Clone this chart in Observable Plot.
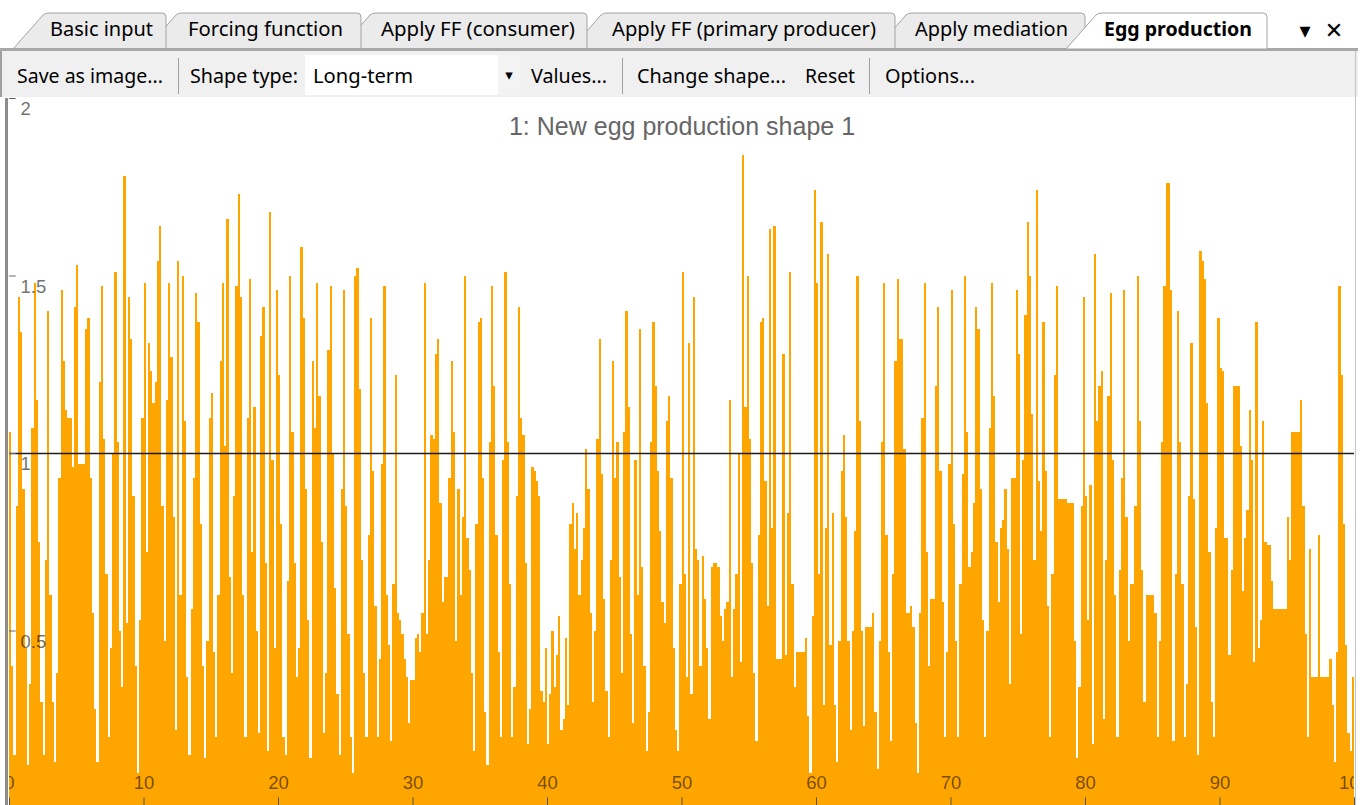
<!DOCTYPE html>
<html><head><meta charset="utf-8">
<script src="https://cdn.jsdelivr.net/npm/d3@7"></script>
<script src="https://cdn.jsdelivr.net/npm/@observablehq/plot@0.6"></script>
<style>
html,body{margin:0;padding:0;background:#fff;}
#app{position:relative;width:1365px;height:805px;overflow:hidden;background:#fff;}
#chrome{position:absolute;left:0;top:0;}
#chart{position:absolute;left:0;top:97px;}
#rborder{position:absolute;left:1355px;top:51px;width:1px;height:754px;background:#c4c4c4;}
</style></head><body>
<div id="app"><svg id="chrome" width="1365" height="97" xmlns="http://www.w3.org/2000/svg"></svg><div id="chart"></div><div id="rborder"></div></div>
<script>
// ---------- data ----------
const barsPerYear = 6;
const eggShape = [
1.06,0.40,0.15,0.85,1.44,1.34, 0.90,0.45,0.12,0.35,1.07,1.48, 1.15,0.75,0.30,0.15,0.70,1.40, 0.60,0.30,0.13,0.38,0.93,1.46,
1.26,1.12,1.10,1.10,0.96,1.41, 1.53,0.97,0.97,0.97,1.35,1.38, 0.93,0.55,0.28,0.13,1.20,1.47, 1.04,0.66,0.20,0.45,1.00,1.51,
1.03,0.50,0.34,1.78,0.52,1.44, 1.32,0.88,0.40,0.10,0.53,1.10, 1.48,0.72,1.31,1.23,1.14,1.20, 1.54,1.64,0.85,0.47,1.15,1.48,
1.27,0.82,0.22,1.54,0.60,1.50, 1.09,0.37,0.15,0.56,0.93,1.45, 1.37,0.80,0.40,0.14,0.47,1.10, 1.17,0.44,0.20,0.60,1.26,1.48,
1.02,1.66,0.65,0.38,0.88,1.47, 1.73,1.44,0.60,0.20,1.10,1.49, 0.72,1.13,0.50,0.21,1.33,1.41, 0.69,0.16,1.68,0.98,0.45,1.46,
1.22,0.80,0.20,0.15,0.64,1.50, 1.06,0.69,0.37,0.45,1.58,1.38, 0.90,0.53,0.14,1.26,1.07,1.48, 1.16,0.75,0.21,0.38,1.29,1.47,
1.00,0.62,0.32,0.15,0.90,1.46, 0.85,0.49,0.20,0.10,1.50,1.52, 1.18,0.70,0.38,0.20,0.77,1.38, 0.95,0.57,0.20,0.42,0.97,1.47,
0.60,0.46,0.19,0.63,1.22,0.55, 0.53,0.49,0.42,0.37,0.24,0.36, 0.36,0.48,0.49,0.44,0.55,1.48, 0.49,0.70,1.05,1.04,1.28,1.32,
0.86,0.58,0.65,0.65,0.93,1.26, 1.06,0.47,0.90,0.60,0.82,1.50, 0.76,0.67,0.38,0.16,0.80,1.37, 1.38,0.93,0.27,0.12,1.03,1.47,
1.19,0.77,0.44,0.20,0.98,1.51, 1.03,0.63,0.20,0.34,0.88,1.41, 1.10,1.05,0.69,0.18,0.28,0.96, 0.95,0.92,0.88,0.33,0.30,0.45,
0.18,0.32,0.50,0.34,0.43,0.54, 0.22,0.25,0.48,0.29,0.80,0.86, 0.73,0.83,0.60,0.70,0.79,1.01, 0.90,0.55,0.30,0.50,1.04,1.32,
0.94,0.59,0.33,0.20,0.70,1.26, 0.93,1.03,0.65,0.38,1.06,1.40, 1.13,0.49,0.24,0.98,0.60,1.35, 0.68,0.40,0.16,0.27,1.03,1.37,
1.19,0.95,0.78,0.58,0.52,1.09, 1.16,0.93,0.45,0.22,0.16,0.63, 1.51,0.66,0.37,1.31,0.32,1.44, 0.73,0.70,0.40,0.71,0.59,0.45,
0.25,0.68,0.69,0.69,0.68,0.54, 0.47,0.56,0.58,1.15,0.37,0.56, 0.66,1.00,0.41,1.84,1.13,1.50, 1.04,0.69,0.38,0.19,0.77,1.37,
1.38,0.92,0.57,1.63,0.79,1.64, 0.42,0.42,0.42,1.28,0.43,0.83, 1.51,0.63,0.34,0.44,0.44,0.44, 0.44,0.48,0.26,0.10,0.54,1.74,
1.48,0.66,1.65,0.29,0.79,1.56, 0.46,0.83,0.29,0.13,0.47,0.95, 1.05,0.82,0.47,0.22,0.50,0.78, 1.50,1.09,0.50,0.23,0.51,0.51,
0.51,0.55,0.27,0.11,0.47,1.03, 1.48,0.77,0.44,0.19,0.66,1.26, 1.49,1.32,1.32,1.01,0.55,0.55, 0.57,0.51,0.24,0.10,0.55,1.10,
1.48,0.72,0.40,0.59,0.59,1.19, 1.41,0.95,0.58,0.20,0.44,0.97, 1.46,0.80,0.47,0.20,0.63,0.94, 1.50,1.06,0.68,0.72,0.86,1.41,
1.35,0.90,0.53,0.20,0.50,1.07, 1.48,1.16,0.75,0.58,0.79,0.81, 0.90,0.73,0.35,0.93,0.93,1.46, 1.28,0.49,0.98,1.39,1.65,1.50,
1.11,0.70,1.74,0.92,0.78,1.37, 0.95,0.57,0.20,0.66,1.22,1.47, 0.87,0.87,0.87,0.87,0.86,0.86, 0.86,0.47,0.14,0.34,0.85,1.44,
0.88,0.53,0.91,0.18,1.56,1.09, 1.19,1.23,0.25,0.70,1.16,1.45, 0.98,0.60,0.20,0.67,0.93,1.46, 0.82,0.47,0.63,0.63,0.85,1.50,
1.09,0.67,0.30,0.60,0.60,0.60, 0.60,0.55,0.20,0.47,1.03,1.47, 1.76,1.76,1.46,0.19,0.66,1.40, 1.03,0.63,0.20,0.35,0.88,1.31,
0.87,0.51,0.15,1.57,1.54,1.49, 1.14,0.72,0.30,0.20,0.79,1.38, 1.24,1.23,0.76,0.76,0.43,0.67, 1.19,1.19,1.19,1.02,0.61,0.76,
0.84,1.12,0.98,0.41,1.37,0.45, 0.53,1.09,0.75,0.74,0.74,0.64, 0.56,0.56,0.56,0.56,0.56,0.56, 0.82,0.70,1.06,1.06,1.06,1.06,
1.15,0.85,0.49,0.20,0.73,0.37, 0.37,0.37,0.77,0.37,0.37,0.37, 0.37,0.42,0.29,0.13,0.44,1.47, 1.22,0.80,0.46,0.21,0.16,0.37
];
const xTicks = [0,10,20,30,40,50,60,70,80,90,100];
const yTicks = [0.5,1,1.5,2];
const referenceLevel = [1];
const chartTitle = "1: New egg production shape 1";
const tabLabels = ["Basic input","Forcing function","Apply FF (consumer)","Apply FF (primary producer)","Apply mediation","Egg production"];
const toolbarLabels = ["Save as image...","Shape type:","Long-term","Values...","Change shape...","Reset","Options..."];

// ---------- layout (UI chrome) ----------
const tabGeom = [ // [tabTopLeft, tabRight, textX, textWidth]
  [47,166,50,103],[180,361,188,155],[374,587,381,194],[605,895,612,264],[910,1085,915,153],[1100,1267,1104,148]
];
const toolGeom = [[17,146],[190,108],[313,100],[531,76],[637,149],[805,50],[885,90]];
const separators = [178,622,869];

const NS = "http://www.w3.org/2000/svg";
const chrome = document.getElementById("chrome");
function el(tag, attrs, text){const e=document.createElementNS(NS,tag);for(const k in attrs)e.setAttribute(k,attrs[k]);if(text!=null)e.textContent=text;chrome.appendChild(e);return e;}
el("rect",{x:0,y:0,width:1365,height:97,fill:"#ffffff"});
function tabPath(T,R){const b=49;return `M${T-34},${b} L${T-4},${15} Q${T-2},13 ${T+2},13 L${R-4},13 Q${R},13 ${R},17 L${R},${b} Z`;}
const active = tabLabels.length-1;
for(let i=active-1;i>=0;i--){
  const [T,R]=tabGeom[i];
  el("path",{d:tabPath(T,R),fill:"#ebebeb",stroke:"#a3a3a3","stroke-width":1});
}
el("rect",{x:0,y:48,width:1358,height:3,fill:"#a8a8a8"});
{
  const [T,R]=tabGeom[active];
  el("path",{d:tabPath(T,R),fill:"#ffffff",stroke:"#a3a3a3","stroke-width":1});
}
for(let i=0;i<tabLabels.length;i++){
  const [T,R,tx,tw]=tabGeom[i];
  el("text",{x:tx,y:36,"font-family":"Noto Sans, sans-serif","font-size":19,"font-weight":i===active?"bold":"normal",fill:"#000",textLength:tw,lengthAdjust:"spacingAndGlyphs"},tabLabels[i]);
}
el("text",{x:1305,y:38,"font-family":"DejaVu Sans","font-size":22,"text-anchor":"middle",fill:"#000"},"▾");
el("text",{x:1334,y:38,"font-family":"DejaVu Sans","font-size":22,"font-weight":"bold","text-anchor":"middle",fill:"#000"},"✕");
// toolbar
el("rect",{x:0,y:51,width:1358,height:46,fill:"#f0f0f0"});
el("rect",{x:0,y:51,width:2,height:754,fill:"#a0a0a0"});
el("rect",{x:305,y:55,width:193,height:40,fill:"#ffffff"});
el("rect",{x:498,y:55,width:22,height:40,fill:"#f3f3f3"});
el("text",{x:509,y:80,"font-family":"DejaVu Sans","font-size":15,"text-anchor":"middle",fill:"#000"},"▾");
for(const sx of separators) el("rect",{x:sx,y:58,width:1,height:36,fill:"#a0a0a0"});
for(let i=0;i<toolbarLabels.length;i++){
  const [tx,tw]=toolGeom[i];
  el("text",{x:tx,y:83,"font-family":"Noto Sans, sans-serif","font-size":19,fill:"#000",textLength:tw,lengthAdjust:"spacingAndGlyphs"},toolbarLabels[i]);
}

// ---------- chart ----------
const bars = eggShape.map((v,i)=>({x1:i/barsPerYear,x2:(i+1)/barsPerYear,v}));
const chart = Plot.plot({
  width:1365, height:708,
  marginLeft:9, marginRight:11, marginTop:1, marginBottom:0,
  x:{domain:[0,100], axis:null},
  y:{domain:[0,2], range:[711,1], axis:null},
  style:{background:"transparent", fontFamily:"'Liberation Sans', Arial, sans-serif"},
  marks:[
    Plot.rectY(bars,{x1:"x1",x2:"x2",y:"v",fill:"#FFA500",shapeRendering:"crispEdges"}),
    Plot.ruleY(referenceLevel,{stroke:"#1c1c1c",strokeWidth:1.6}),
    Plot.ruleX([0],{stroke:"#8c8c8c",strokeWidth:3,dx:-3}),
    Plot.ruleY(yTicks,{x1:0,x2:0.5,stroke:"#666"}),
    Plot.text(yTicks,{x:0,y:d=>d,text:d=>String(d),textAnchor:"start",dx:11,dy:11,fontSize:18.5,fill:"#000",fillOpacity:0.58}),
    Plot.ruleX(xTicks,{x:d=>d,y1:0,y2:0.03,stroke:"#555"}),
    Plot.text(xTicks,{x:d=>d,y:0,dy:-25,text:d=>String(d),fontSize:18.5,fill:"#000",fillOpacity:0.55,clip:"frame"}),
    Plot.text([chartTitle],{frameAnchor:"top",lineAnchor:"middle",dy:28,text:d=>d,fontSize:25,fill:"#666"})
  ]
});
document.getElementById("chart").appendChild(chart);
</script></body></html>
